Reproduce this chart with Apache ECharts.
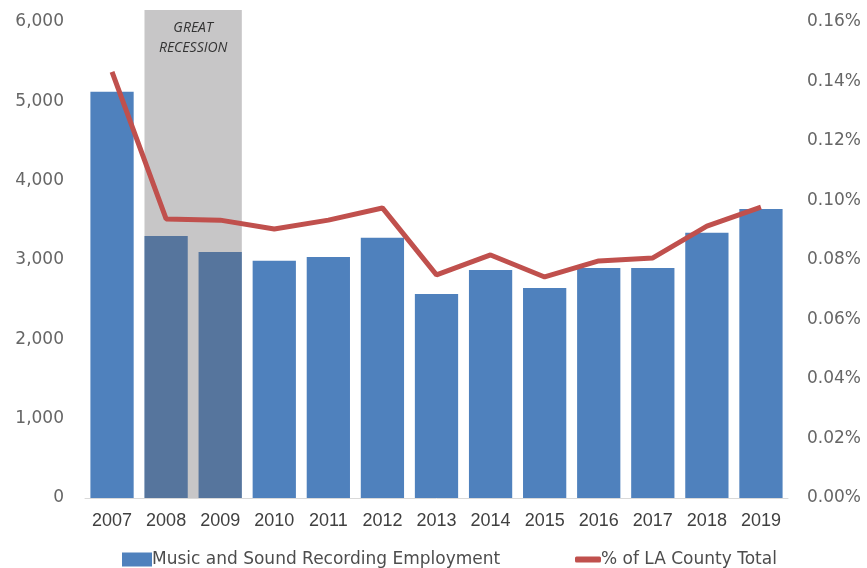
<!DOCTYPE html>
<html>
<head>
<meta charset="utf-8">
<title>Music and Sound Recording Employment</title>
<script src="https://cdn.jsdelivr.net/npm/echarts@6/dist/echarts.min.js"></script>
<style>
    html, body {margin: 0; padding: 0; background: #fff;}
    #main {width: 867px; height: 568px;}
</style>
</head>
<body>
<div id="main"></div>
<script>
    var years = ['2007', '2008', '2009', '2010', '2011', '2012', '2013', '2014', '2015', '2016', '2017', '2018', '2019'];
    var employment = [5120, 3304, 3102, 2989, 3039, 3279, 2573, 2875, 2648, 2900, 2900, 3342, 3644];
    var laShare = [0.1432, 0.0938, 0.0934, 0.0904, 0.0934, 0.0975, 0.0750, 0.0817, 0.0743, 0.0797, 0.0807, 0.0914, 0.0978];
    var recessionYears = ['2008', '2009'];
    var recessionTop = 6150;

    var labelFont = '"DejaVu Sans", sans-serif';

    (function (charts) {
        charts.setOption({
            animation: false,
            grid: {left: 85, right: 79, top: 22, bottom: 70},
            legend: [
                {
                    left: 117, bottom: -5, itemWidth: 30, itemHeight: 14,
                    textStyle: {fontFamily: labelFont, fontSize: 17, color: '#4d4d4d', padding: [0, 0, 0, -5]},
                    data: [{name: 'Music and Sound Recording Employment', icon: 'rect'}]
                },
                {
                    left: 570, bottom: -5, itemWidth: 26, itemHeight: 6,
                    textStyle: {fontFamily: labelFont, fontSize: 17, color: '#4d4d4d', padding: [0, 0, 0, -5]},
                    data: [{name: '% of LA County Total', icon: 'roundRect'}]
                }
            ],
            xAxis: [{
                type: 'category', data: years,
                axisLine: {show: true, lineStyle: {color: '#d9d9d9', width: 1}},
                axisTick: {show: false},
                axisLabel: {interval: 0, margin: 14, color: '#404040', fontSize: 18, fontFamily: '"Liberation Sans", sans-serif'}
            }],
            yAxis: [
                {
                    type: 'value', min: 0, max: 6000, interval: 1000,
                    splitLine: {show: false}, axisLine: {show: false}, axisTick: {show: false},
                    axisLabel: {
                        margin: 21, color: '#666', fontSize: 17, fontFamily: labelFont,
                        formatter: function (v) {
                            return String(v).replace(/\B(?=(\d{3})+(?!\d))/g, ',');
                        }
                    }
                },
                {
                    type: 'value', min: 0, max: 0.16, interval: 0.02, position: 'right',
                    splitLine: {show: false}, axisLine: {show: false}, axisTick: {show: false},
                    axisLabel: {
                        margin: 19, color: '#666', fontSize: 17, fontFamily: labelFont,
                        formatter: function (v) {
                            return v.toFixed(2) + '%';
                        }
                    }
                }
            ],
            series: [
                {
                    name: 'Music and Sound Recording Employment', type: 'bar',
                    barWidth: '80%', z: 2,
                    itemStyle: {color: '#4f81bd'},
                    data: employment
                },
                {
                    // 经济衰退阴影区域
                    name: 'recession', type: 'custom', z: 3, silent: true,
                    encode: {x: [0, 1], y: 2},
                    data: [[years.indexOf(recessionYears[0]), years.indexOf(recessionYears[1]), recessionTop]],
                    renderItem: function (params, api) {
                        var a = api.coord([api.value(0), 0]);
                        var b = api.coord([api.value(1), api.value(2)]);
                        var half = api.size([1, 0])[0] * 0.4;
                        return {
                            type: 'group',
                            children: [
                                {
                                    type: 'rect',
                                    shape: {x: a[0] - half, y: b[1], width: b[0] - a[0] + 2 * half, height: a[1] - b[1]},
                                    style: {fill: 'rgba(100, 97, 99, 0.36)'}
                                },
                                {
                                    type: 'text',
                                    style: {
                                        text: 'GREAT\nRECESSION', x: (a[0] + b[0]) / 2, y: b[1] + 8,
                                        align: 'center', verticalAlign: 'top', lineHeight: 20,
                                        font: 'italic 14px "Open Sans", sans-serif', fill: '#333'
                                    }
                                }
                            ]
                        };
                    }
                },
                {
                    name: '% of LA County Total', type: 'line', yAxisIndex: 1, z: 4,
                    symbol: 'none',
                    lineStyle: {color: '#c0504d', width: 5},
                    itemStyle: {color: '#c0504d'},
                    data: laShare
                }
            ]
        });
    })(echarts.init(document.getElementById('main')));
</script>
</body>
</html>
